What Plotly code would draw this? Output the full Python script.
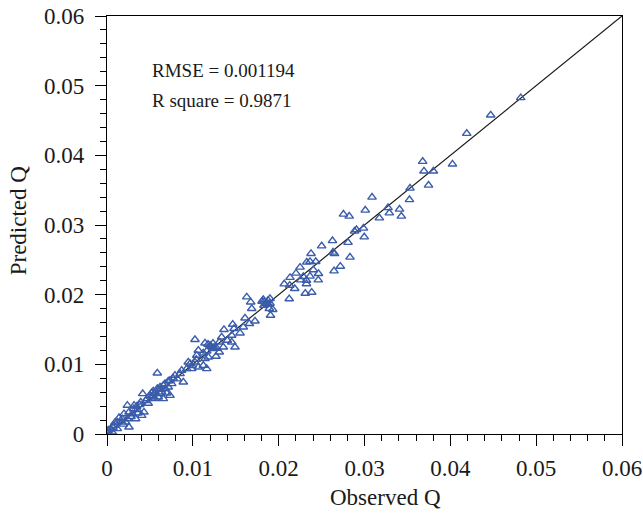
import plotly.graph_objects as go

# Observed vs. predicted discharge Q
observed = [
    0.04820, 0.04470, 0.04191, 0.04025, 0.03678, 0.03693, 0.03802, 0.03746, 0.03530, 0.03524,
    0.03088, 0.03009, 0.03274, 0.03289, 0.03408, 0.03429, 0.03173, 0.02755, 0.02822, 0.02884,
    0.02907, 0.02988, 0.02997, 0.02627, 0.02808, 0.02501, 0.02377, 0.02633, 0.02651, 0.02831,
    0.02327, 0.02365, 0.02432, 0.02249, 0.02718, 0.02404, 0.02202, 0.02464, 0.02645, 0.02132,
    0.02287, 0.02365, 0.02257, 0.02324, 0.02461, 0.02065, 0.02129, 0.02187, 0.02324, 0.02310,
    0.02385, 0.02123, 0.01899, 0.01821, 0.01628, 0.01674, 0.01686, 0.01806, 0.01852, 0.01876,
    0.01829, 0.01899, 0.01891, 0.01931, 0.01905, 0.01608, 0.01658, 0.01724, 0.01465, 0.01588,
    0.01480, 0.01363, 0.01550, 0.01453, 0.01336, 0.01025, 0.01402, 0.01453, 0.01308, 0.01142,
    0.01177, 0.01212, 0.01235, 0.01247, 0.01239, 0.01355, 0.01308, 0.01162, 0.01064, 0.01122,
    0.01491, 0.01270, 0.01180, 0.01045, 0.00967, 0.01025, 0.01064, 0.01122, 0.01142, 0.01162,
    0.00929, 0.00987, 0.00947, 0.00586, 0.00851, 0.00792, 0.00870, 0.00889, 0.00734, 0.00676,
    0.00754, 0.00618, 0.00714, 0.00714, 0.00539, 0.00637, 0.00696, 0.00416, 0.00501, 0.00598,
    0.00559, 0.00656, 0.00586, 0.00548, 0.00470, 0.00528, 0.00393, 0.00237, 0.00315, 0.00353,
    0.00431, 0.00256, 0.00198, 0.00295, 0.00140, 0.00178, 0.00237, 0.00334, 0.00120, 0.00218,
    0.00082, 0.00256, 0.00043, 0.00120, 0.00012, 0.00062, 0.00006, 0.00023, 0.00070, 0.00404,
    0.00346, 0.00656, 0.00618, 0.00734, 0.00160, 0.00280, 0.00310, 0.00380, 0.00450, 0.00480,
    0.00090, 0.00190, 0.00360, 0.00520, 0.00620, 0.00680, 0.00770, 0.00820, 0.00990, 0.01040,
    0.01200, 0.01280, 0.01860, 0.01880, 0.01830,
]
predicted = [
    0.04826, 0.04577, 0.04314, 0.03873, 0.03912, 0.03773, 0.03773, 0.03571, 0.03528, 0.03363,
    0.03399, 0.03212, 0.03248, 0.03173, 0.03226, 0.03126, 0.03101, 0.03155, 0.03126, 0.02910,
    0.02932, 0.02953, 0.02828, 0.02774, 0.02749, 0.02699, 0.02590, 0.02609, 0.02587, 0.02537,
    0.02465, 0.02475, 0.02475, 0.02393, 0.02407, 0.02357, 0.02307, 0.02302, 0.02340, 0.02246,
    0.02259, 0.02264, 0.02210, 0.02206, 0.02210, 0.02153, 0.02134, 0.02087, 0.02156, 0.02019,
    0.02034, 0.01940, 0.01943, 0.01929, 0.01966, 0.01894, 0.01799, 0.01904, 0.01876, 0.01919,
    0.01847, 0.01876, 0.01799, 0.01785, 0.01703, 0.01664, 0.01584, 0.01621, 0.01574, 0.01535,
    0.01512, 0.01498, 0.01449, 0.01416, 0.01391, 0.01354, 0.01344, 0.01319, 0.01319, 0.01305,
    0.01286, 0.01258, 0.01301, 0.01243, 0.01224, 0.01247, 0.01176, 0.01190, 0.01200, 0.01161,
    0.01247, 0.01114, 0.01104, 0.01128, 0.01009, 0.01032, 0.00960, 0.00984, 0.01081, 0.00937,
    0.00937, 0.00937, 0.01032, 0.00874, 0.00865, 0.00841, 0.00913, 0.00744, 0.00769, 0.00721,
    0.00721, 0.00673, 0.00673, 0.00759, 0.00615, 0.00601, 0.00586, 0.00578, 0.00553, 0.00529,
    0.00506, 0.00506, 0.00650, 0.00578, 0.00506, 0.00529, 0.00457, 0.00410, 0.00410, 0.00348,
    0.00313, 0.00313, 0.00290, 0.00290, 0.00233, 0.00218, 0.00218, 0.00218, 0.00170, 0.00170,
    0.00122, 0.00098, 0.00075, 0.00075, 0.00050, 0.00026, 0.00022, 0.00057, 0.00093, 0.00266,
    0.00395, 0.00697, 0.00578, 0.00553, 0.00190, 0.00250, 0.00360, 0.00420, 0.00480, 0.00440,
    0.00160, 0.00140, 0.00300, 0.00590, 0.00640, 0.00650, 0.00800, 0.00790, 0.00980, 0.01070,
    0.01270, 0.01230, 0.01880, 0.01860, 0.01900,
]

tick_vals = [0, 0.01, 0.02, 0.03, 0.04, 0.05, 0.06]
tick_text = ["0", "0.01", "0.02", "0.03", "0.04", "0.05", "0.06"]
axis_limits = [0, 0.06]
x_title = "Observed Q"
y_title = "Predicted Q"
rmse_text = "RMSE = 0.001194"
r2_text = "R square = 0.9871"

serif = "Liberation Serif, Times New Roman, serif"
ink = "#1a1a1a"

fig = go.Figure()

# 1:1 reference line
fig.add_trace(go.Scatter(
    x=axis_limits, y=axis_limits, mode="lines",
    line=dict(color=ink, width=1.2),
    hoverinfo="skip", showlegend=False,
))

fig.add_trace(go.Scatter(
    x=observed, y=predicted, mode="markers",
    marker=dict(symbol="triangle-up-open", size=7.5, color="#3a5cab",
                line=dict(width=1.4, color="#3a5cab")),
    showlegend=False,
))

axis_common = dict(
    range=axis_limits, automargin=False,
    tickvals=tick_vals, ticktext=tick_text,
    ticks="outside", ticklen=11, tickwidth=1.2, tickcolor="black",
    minor=dict(ticks="outside", ticklen=6, tickwidth=1.2, tickcolor="black",
               dtick=0.002, tick0=0, showgrid=False),
    showline=True, linecolor="black", linewidth=1.3, mirror=True,
    showgrid=False, zeroline=False,
    tickfont=dict(family=serif, size=23, color=ink),
)

fig.update_xaxes(**axis_common, ticklabelstandoff=2)
fig.update_yaxes(**axis_common, ticklabelstandoff=6)

title_font = dict(family=serif, size=23, color=ink)
fig.add_annotation(x=0.54, y=-0.152, xref="paper", yref="paper", text=x_title,
                   showarrow=False, xanchor="center", yanchor="middle", font=title_font)
fig.add_annotation(x=-0.173, y=0.511, xref="paper", yref="paper", text=y_title,
                   showarrow=False, textangle=-90, xanchor="center", yanchor="middle",
                   font=title_font)

fig.add_annotation(x=0.005, y=0.0522, text=rmse_text, showarrow=False,
                   xanchor="left", yanchor="middle",
                   font=dict(family=serif, size=19, color=ink))
fig.add_annotation(x=0.005, y=0.0478, text=r2_text, showarrow=False,
                   xanchor="left", yanchor="middle",
                   font=dict(family=serif, size=19, color=ink))

fig.update_layout(
    width=643, height=514,
    margin=dict(l=107, r=21, t=16, b=80),
    plot_bgcolor="white", paper_bgcolor="white",
)

fig.write_html("out.html")
